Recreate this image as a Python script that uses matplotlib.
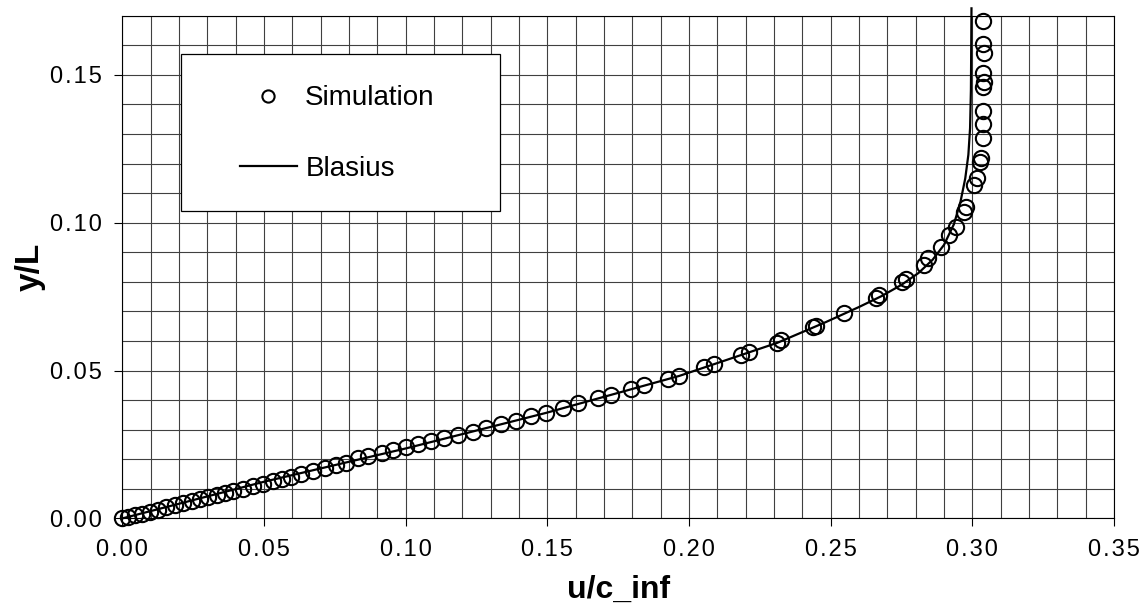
import matplotlib
matplotlib.use("Agg")
import matplotlib.pyplot as plt
from matplotlib.patches import Rectangle
from matplotlib.ticker import MultipleLocator, FuncFormatter

plt.rcParams['font.family'] = ['Liberation Sans', 'DejaVu Sans']

# simulation points (u/c_inf, y/L)
sim_u = [0.000, 0.0021, 0.0045, 0.0068, 0.0098, 0.0127, 0.0156, 0.0186, 0.0215, 0.0245,
         0.0274, 0.0303, 0.0333, 0.0362, 0.0391, 0.0427, 0.0462, 0.0497, 0.0532, 0.0562,
         0.0597, 0.0632, 0.0673, 0.0714, 0.0756, 0.0791, 0.0832, 0.0867, 0.0916, 0.0955,
         0.1002, 0.1043, 0.1091, 0.1137, 0.1184, 0.1237, 0.1284, 0.1337, 0.1390, 0.1443,
         0.1496, 0.1554, 0.1607, 0.1678, 0.1725, 0.1796, 0.1842, 0.1925, 0.1966, 0.2054,
         0.2089, 0.2183, 0.2213, 0.2312, 0.2324, 0.2436, 0.2448, 0.2547, 0.2659, 0.2671,
         0.2753, 0.2767, 0.2829, 0.2845, 0.2888, 0.2918, 0.2941, 0.2970, 0.2976, 0.3006,
         0.3017, 0.3026, 0.3029, 0.3038, 0.3038, 0.3038, 0.3038, 0.3041, 0.3038, 0.3041,
         0.3038, 0.3038]
sim_y = [0.0000, 0.0005, 0.0011, 0.0016, 0.0023, 0.0030, 0.0037, 0.0044, 0.0051, 0.0058,
         0.0065, 0.0072, 0.0079, 0.0086, 0.0093, 0.0101, 0.0110, 0.0118, 0.0126, 0.0133,
         0.0141, 0.0150, 0.0159, 0.0169, 0.0179, 0.0187, 0.0203, 0.0212, 0.0222, 0.0231,
         0.0242, 0.0251, 0.0262, 0.0271, 0.0282, 0.0293, 0.0305, 0.0319, 0.0330, 0.0346,
         0.0358, 0.0372, 0.0389, 0.0406, 0.0417, 0.0437, 0.0451, 0.0471, 0.0481, 0.0511,
         0.0522, 0.0553, 0.0564, 0.0594, 0.0603, 0.0648, 0.0651, 0.0696, 0.0744, 0.0755,
         0.0800, 0.0809, 0.0857, 0.0880, 0.0919, 0.0958, 0.0986, 0.1037, 0.1052, 0.1128,
         0.1152, 0.1206, 0.1220, 0.1287, 0.1333, 0.1378, 0.1460, 0.1475, 0.1505, 0.1573,
         0.1603, 0.1682]

# Blasius profile
bl_u = [0.0, 0.050, 0.1002, 0.1496, 0.1966, 0.2312, 0.2483, 0.2600, 0.2680, 0.2750,
        0.2810, 0.2860, 0.2900, 0.2935, 0.2958, 0.2975, 0.2986, 0.2992, 0.2995, 0.2997]
bl_y = [0.0, 0.0124, 0.0237, 0.0357, 0.0482, 0.0594, 0.0664, 0.0715, 0.0752, 0.0790,
        0.0830, 0.0875, 0.0925, 0.0995, 0.1070, 0.1150, 0.1230, 0.1320, 0.1450, 0.1725]


def spaced(v, pos):
    return '\u200a'.join('%.2f' % v)


fig = plt.figure(figsize=(11.48, 6.12), dpi=100)
ax = fig.add_axes([0.1065, 0.1529, 0.8639, 0.8214])

ax.plot(bl_u, bl_y, color='black', lw=1.6, label='Blasius', zorder=4, clip_on=False)
ax.plot(sim_u, sim_y, 'o', mfc='none', mec='black', ms=11, mew=1.5,
        label='Simulation', zorder=5, clip_on=False)

ax.set_xlim(0, 0.35)
ax.set_ylim(0, 0.17)
ax.xaxis.set_major_locator(MultipleLocator(0.05))
ax.yaxis.set_major_locator(MultipleLocator(0.05))
ax.xaxis.set_minor_locator(MultipleLocator(0.01))
ax.yaxis.set_minor_locator(MultipleLocator(0.01))
ax.xaxis.set_major_formatter(FuncFormatter(spaced))
ax.yaxis.set_major_formatter(FuncFormatter(spaced))
ax.tick_params(which='major', direction='out', length=6, width=0.8, labelsize=17, pad=9)
ax.tick_params(which='minor', length=0)
ax.grid(which='both', color='0.25', lw=0.8)
ax.set_axisbelow(True)
for s in ax.spines.values():
    s.set_linewidth(0.8)

ax.set_xlabel('u/c_inf', fontsize=23, fontweight='bold', labelpad=10)
ax.set_ylabel('y/L', fontsize=24, fontweight='bold', labelpad=3)

# legend box
ax.add_patch(Rectangle((0.0589, 0.6121), 0.322, 0.3117, transform=ax.transAxes,
                       facecolor='white', edgecolor='black', lw=0.9, zorder=6))
h, l = ax.get_legend_handles_labels()
leg = ax.legend([h[1], h[0]], [l[1], l[0]], loc='center left',
                bbox_to_anchor=(0.1187, 0.7657), frameon=False, fontsize=20,
                handlelength=2.05, handletextpad=0.3, labelspacing=1.6,
                borderpad=0, borderaxespad=0, markerscale=0.8)
leg.set_zorder(7)

fig.savefig('out.png', dpi=100)
